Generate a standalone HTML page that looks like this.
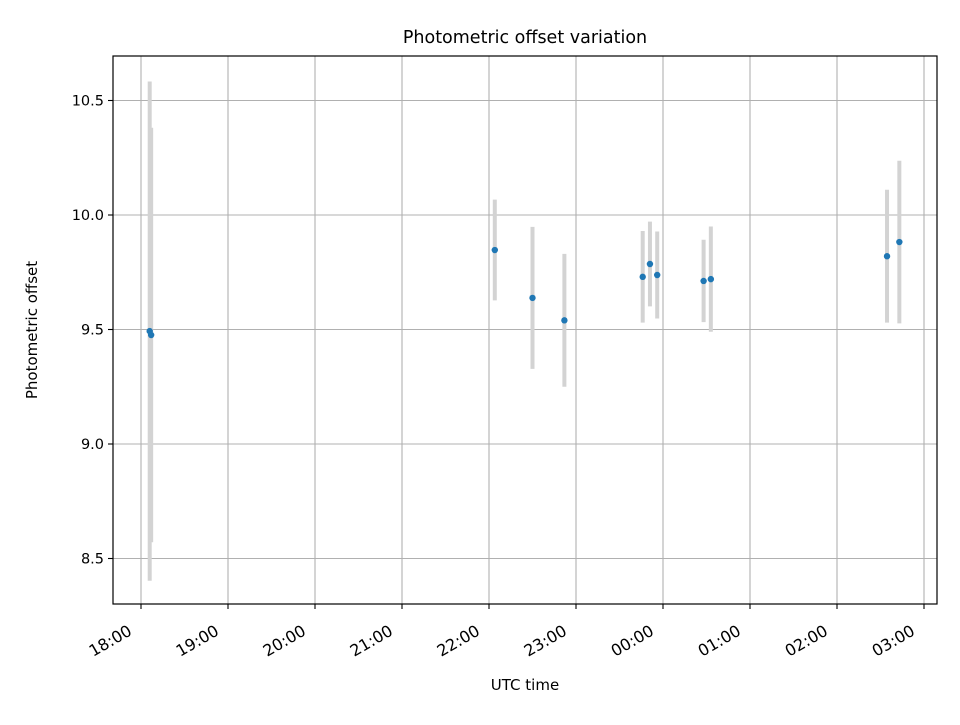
<!DOCTYPE html>
<html><head><meta charset="utf-8"><style>
body{margin:0;background:#fff}
svg{font-family:"DejaVu Sans","Liberation Sans",sans-serif}
</style></head><body>
<svg id="chart" width="960" height="720" xmlns="http://www.w3.org/2000/svg">
<rect width="960" height="720" fill="#fff"/>
<g id="grid"></g>
<g id="bars"></g>
<g id="pts"></g>
<rect x="113" y="56" width="824" height="548" fill="none" stroke="#000" stroke-width="1.2"/>
<g id="ticks"></g>
<text x="525" y="43" font-size="17.5" text-anchor="middle">Photometric offset variation</text>
<text x="525" y="690" font-size="15" text-anchor="middle">UTC time</text>
<text transform="translate(37,330) rotate(-90)" font-size="15" text-anchor="middle">Photometric offset</text>
</svg>
<script>
// minutes since 18:00
const times=[6,7,244,270,292,346,351,356,388,393,514.5,523];
const values=[9.493,9.476,9.847,9.638,9.54,9.73,9.786,9.738,9.712,9.72,9.82,9.882];
const errors=[1.09,0.905,0.22,0.31,0.29,0.2,0.185,0.19,0.18,0.23,0.29,0.355];
const xTickLabels=["18:00","19:00","20:00","21:00","22:00","23:00","00:00","01:00","02:00","03:00"];
const yTicks=[8.5,9.0,9.5,10.0,10.5];
const NS="http://www.w3.org/2000/svg";
const X=m=>141+m*(783/540);
const Y=v=>215-(v-10)*229;
function mk(t,a,p){const e=document.createElementNS(NS,t);for(const k in a)e.setAttribute(k,a[k]);p.appendChild(e);return e;}
const grid=document.getElementById('grid'),ticks=document.getElementById('ticks');
xTickLabels.forEach((l,i)=>{const x=X(i*60);
 const g=mk('line',{x1:x,x2:x,y1:56,y2:604,stroke:'#b0b0b0','stroke-width':1.1},grid);
 
 mk('line',{x1:x,x2:x,y1:604,y2:609,stroke:'#000','stroke-width':1.1},ticks);
 const ax=x-8,ay=634;
 const t=mk('text',{x:ax,y:ay,'font-size':16,'text-anchor':'end',transform:`rotate(-30 ${ax} ${ay})`},ticks);
 t.textContent=l;});
yTicks.forEach(v=>{const y=Y(v);
 const g=mk('line',{x1:113,x2:937,y1:y,y2:y,stroke:'#b0b0b0','stroke-width':1.1},grid);
 
 mk('line',{x1:108,x2:113,y1:y,y2:y,stroke:'#000','stroke-width':1.1},ticks);
 const t=mk('text',{x:104,y:y+5,'font-size':14.5,'text-anchor':'end'},ticks);
 t.textContent=v.toFixed(1);});
const bars=document.getElementById('bars'),pts=document.getElementById('pts');
times.forEach((m,i)=>{const x=X(m);
 const b=mk('line',{x1:x,x2:x,y1:Y(values[i]+errors[i]),y2:Y(values[i]-errors[i]),stroke:'#d3d3d3','stroke-width':4},bars);
 
 const c=mk('circle',{cx:x,cy:Y(values[i]),r:3.2,fill:'#1f77b4'},pts);
 });
</script>
</body></html>
